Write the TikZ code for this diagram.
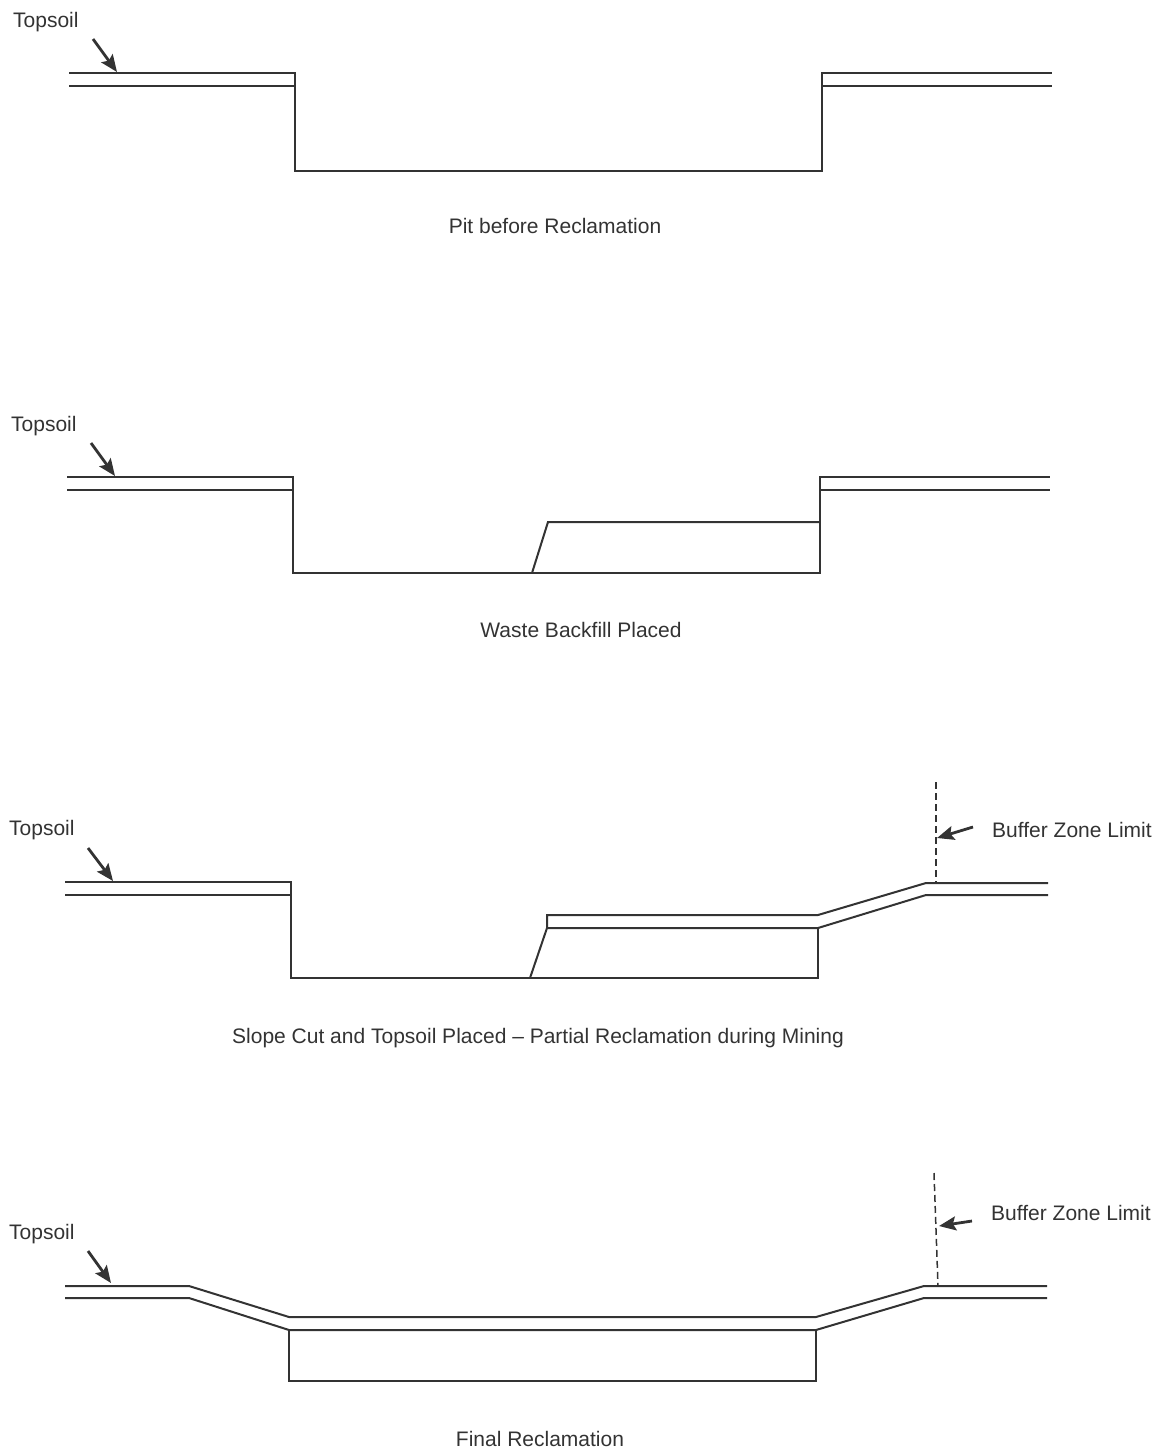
\documentclass[tikz,border=0pt]{standalone}
\usepackage{fontspec}
\setmainfont{Liberation Sans}
\usetikzlibrary{arrows.meta}

\definecolor{inkgray}{HTML}{333333}

\begin{document}
\begin{tikzpicture}[x=1pt,y=-1pt,>={Stealth[length=17pt,width=14pt,inset=3pt]},
  ground/.style={line width=2pt,draw=inkgray,line join=miter},
  pointer/.style={->,line width=2.8pt,draw=inkgray},
  limit/.style={line width=1.5pt,draw=inkgray,dash pattern=on 7pt off 4pt},
  lbl/.style={font=\fontsize{21}{25}\selectfont,text=inkgray,inner sep=0pt}]
\useasboundingbox (0,0) rectangle (1165,1451);

% pit before reclamation
\draw[ground] (69,73) -- (295,73) -- (295,171) -- (822,171) -- (822,73) -- (1052,73);
\draw[ground] (69,86) -- (295,86);
\draw[ground] (822,86) -- (1052,86);
\node[lbl,anchor=base west] (soilA) at (13,27) {Topsoil};
\coordinate (tailA) at (93,39);
\coordinate (tipA) at (117,72);
\draw[pointer] (tailA) -- (tipA);
\node[lbl,anchor=base] (capA) at (555,233) {Pit before Reclamation};

% waste backfill placed
\draw[ground] (67,477) -- (293,477) -- (293,573) -- (820,573) -- (820,477) -- (1050,477);
\draw[ground] (67,490) -- (293,490);
\draw[ground] (820,490) -- (1050,490);
\draw[ground] (532,573) -- (548,522) -- (820,522);
\node[lbl,anchor=base west] (soilB) at (11,431) {Topsoil};
\coordinate (tailB) at (91,443);
\coordinate (tipB) at (115,476);
\draw[pointer] (tailB) -- (tipB);
\node[lbl,anchor=base] (capB) at (581,637) {Waste Backfill Placed};

% slope cut, topsoil placed
\draw[ground] (65,882) -- (291,882) -- (291,978) -- (818,978) -- (818,928);
\draw[ground] (65,895) -- (291,895);
\draw[ground] (530,978) -- (547,928) -- (547,915) -- (818,915) -- (926,883) -- (1048,883);
\draw[ground] (547,928) -- (818,928) -- (926,895) -- (1048,895);
\coordinate (limC) at (936,782);
\coordinate (footC) at (936,883);
\draw[limit] (limC) -- (footC);
\node[lbl,anchor=base west] (soilC) at (9,835) {Topsoil};
\coordinate (tailC) at (88,848);
\coordinate (tipC) at (113,881);
\draw[pointer] (tailC) -- (tipC);
\node[lbl,anchor=base west] (zoneC) at (992,837) {Buffer Zone Limit};
\coordinate (bztailC) at (973,827);
\coordinate (bztipC) at (937,838);
\draw[pointer] (bztailC) -- (bztipC);
\node[lbl,anchor=base] (capC) at (538,1043) {Slope Cut and Topsoil Placed -- Partial Reclamation during Mining};

% final reclamation
\draw[ground] (65,1286) -- (189,1286) -- (289,1317) -- (816,1317) -- (924,1286) -- (1047,1286);
\draw[ground] (65,1298) -- (189,1298) -- (289,1330) -- (816,1330) -- (924,1298) -- (1047,1298);
\draw[ground] (289,1330) -- (289,1381) -- (816,1381) -- (816,1330);
\coordinate (limD) at (934,1173);
\coordinate (footD) at (938,1286);
\draw[limit] (limD) -- (footD);
\node[lbl,anchor=base west] (soilD) at (9,1239) {Topsoil};
\coordinate (tailD) at (88,1251);
\coordinate (tipD) at (111,1283);
\draw[pointer] (tailD) -- (tipD);
\node[lbl,anchor=base west] (zoneD) at (991,1220) {Buffer Zone Limit};
\coordinate (bztailD) at (972,1221);
\coordinate (bztipD) at (939,1226);
\draw[pointer] (bztailD) -- (bztipD);
\node[lbl,anchor=base] (capD) at (540,1446) {Final Reclamation};

\end{tikzpicture}
\end{document}
